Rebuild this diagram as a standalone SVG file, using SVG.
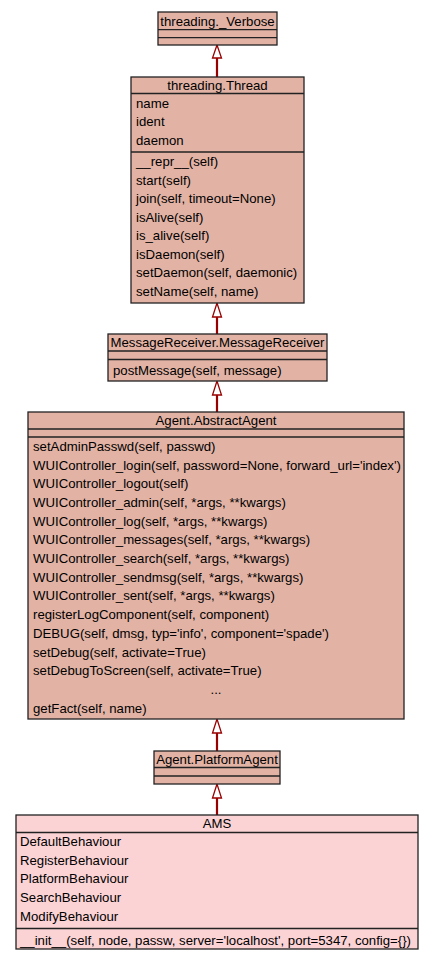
<svg xmlns="http://www.w3.org/2000/svg" width="432" height="960" viewBox="0 0 432 960">
<style>
.box{fill:#e2b3a5;stroke:#222;stroke-width:1.3}
.ams{fill:#fbd3d5;stroke:#222;stroke-width:1.3}
.sep{stroke:#222;stroke-width:1.3}
text{font-family:"Liberation Sans",Arial,sans-serif;font-size:13.2px;fill:#000}
.c{text-anchor:middle}
.edge{stroke:#990000;stroke-width:2.2;fill:none}
.head{fill:#fff;stroke:#990000;stroke-width:1.3}
</style>
<rect width="432" height="960" fill="#fff"/>
<g id="connectors">
<line class="edge" x1="217" y1="58" x2="217" y2="77"/>
<polygon class="head" points="217,45 212.5,58 221.5,58"/>
<line class="edge" x1="217" y1="317" x2="217" y2="334"/>
<polygon class="head" points="217,303 212.5,317 221.5,317"/>
<line class="edge" x1="217" y1="395" x2="217" y2="412"/>
<polygon class="head" points="217,381 212.5,395 221.5,395"/>
<line class="edge" x1="217" y1="733" x2="217" y2="751"/>
<polygon class="head" points="217,719 212.5,733 221.5,733"/>
<line class="edge" x1="217" y1="798" x2="217" y2="815"/>
<polygon class="head" points="217,784 212.5,798 221.5,798"/>
</g>
<g id="verbose">
<rect class="box" x="158" y="12" width="119" height="33"/>
<line class="sep" x1="158" y1="29.7" x2="277" y2="29.7"/>
<line class="sep" x1="158" y1="37.7" x2="277" y2="37.7"/>
<text class="c" x="217.5" y="25.5">threading._Verbose</text>
</g>
<g id="thread">
<rect class="box" x="131" y="77" width="173" height="226"/>
<line class="sep" x1="131" y1="93.5" x2="304" y2="93.5"/>
<line class="sep" x1="131" y1="152" x2="304" y2="152"/>
<text class="c" x="217.5" y="89.5">threading.Thread</text>
<text x="136" y="107.5">name</text>
<text x="136" y="126">ident</text>
<text x="136" y="144.5">daemon</text>
<text x="136" y="166">__repr__(self)</text>
<text x="136" y="184.5">start(self)</text>
<text x="136" y="203">join(self, timeout=None)</text>
<text x="136" y="221.5">isAlive(self)</text>
<text x="136" y="240">is_alive(self)</text>
<text x="136" y="258.5">isDaemon(self)</text>
<text x="136" y="277">setDaemon(self, daemonic)</text>
<text x="136" y="295.5">setName(self, name)</text>
</g>
<g id="messagereceiver">
<rect class="box" x="108" y="334" width="219" height="47"/>
<line class="sep" x1="108" y1="351" x2="327" y2="351"/>
<line class="sep" x1="108" y1="359.5" x2="327" y2="359.5"/>
<text class="c" x="217.5" y="346.5">MessageReceiver.MessageReceiver</text>
<text x="113" y="374.5">postMessage(self, message)</text>
</g>
<g id="abstractagent">
<rect class="box" x="28" y="412" width="376" height="307"/>
<line class="sep" x1="28" y1="429" x2="404" y2="429"/>
<line class="sep" x1="28" y1="437" x2="404" y2="437"/>
<text class="c" x="216" y="424.5">Agent.AbstractAgent</text>
<text x="33" y="450.8">setAdminPasswd(self, passwd)</text>
<text x="33" y="469.5">WUIController_login(self, password=None, forward_url='index')</text>
<text x="33" y="488.2">WUIController_logout(self)</text>
<text x="33" y="506.9">WUIController_admin(self, *args, **kwargs)</text>
<text x="33" y="525.6">WUIController_log(self, *args, **kwargs)</text>
<text x="33" y="544.3">WUIController_messages(self, *args, **kwargs)</text>
<text x="33" y="563">WUIController_search(self, *args, **kwargs)</text>
<text x="33" y="581.7">WUIController_sendmsg(self, *args, **kwargs)</text>
<text x="33" y="600.4">WUIController_sent(self, *args, **kwargs)</text>
<text x="33" y="619.1">registerLogComponent(self, component)</text>
<text x="33" y="637.8">DEBUG(self, dmsg, typ='info', component='spade')</text>
<text x="33" y="656.5">setDebug(self, activate=True)</text>
<text x="33" y="675.2">setDebugToScreen(self, activate=True)</text>
<text class="c" x="216" y="693.9">...</text>
<text x="33" y="712.6">getFact(self, name)</text>
</g>
<g id="platformagent">
<rect class="box" x="154" y="751" width="126" height="33"/>
<line class="sep" x1="154" y1="767.5" x2="280" y2="767.5"/>
<line class="sep" x1="154" y1="776" x2="280" y2="776"/>
<text class="c" x="217" y="763.5">Agent.PlatformAgent</text>
</g>
<g id="ams">
<rect class="ams" x="16" y="815" width="402" height="134"/>
<line class="sep" x1="16" y1="832.5" x2="418" y2="832.5"/>
<line class="sep" x1="16" y1="928.5" x2="418" y2="928.5"/>
<text class="c" x="217" y="828">AMS</text>
<text x="20" y="845.8">DefaultBehaviour</text>
<text x="20" y="864.5">RegisterBehaviour</text>
<text x="20" y="883.2">PlatformBehaviour</text>
<text x="20" y="901.9">SearchBehaviour</text>
<text x="20" y="920.6">ModifyBehaviour</text>
<text x="20" y="944.5">__init__(self, node, passw, server='localhost', port=5347, config={})</text>
</g>
</svg>
